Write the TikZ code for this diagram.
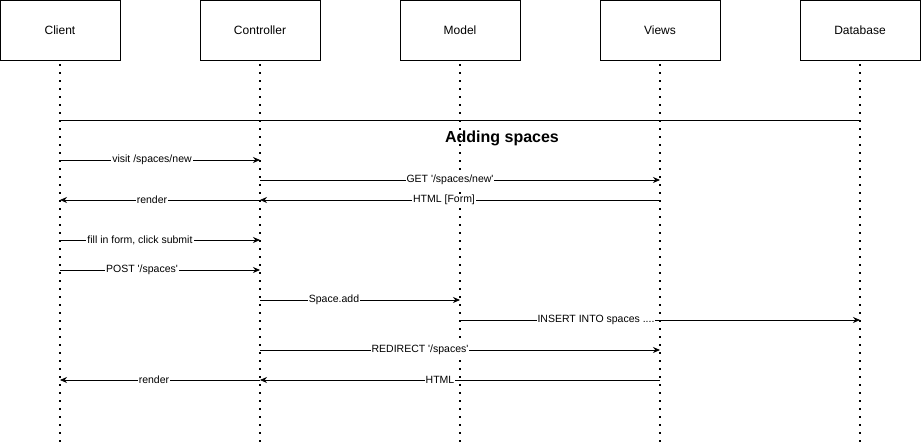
\documentclass[tikz,border=0pt]{standalone}
\usepackage{fontspec}
\setmainfont{Liberation Sans}
\usetikzlibrary{arrows.meta,positioning}
\tikzset{
    seqBox/.style={
        draw,
        line width=0.8pt,
        minimum width=120pt,
        minimum height=60pt,
        font=\fontsize{12}{14}\selectfont
    },
    seqLife/.style={
        line width=1.2pt,
        dash pattern=on 1.2pt off 6.8pt
    },
    seqMsg/.style={
        -{Stealth[length=7pt,width=6pt]},
        line width=0.8pt
    },
    seqLabel/.style={
        fill=white,
        inner sep=1pt,
        font=\fontsize{10.5}{12}\selectfont
    }
}
\newcommand{\q}{\textquotesingle}

\begin{document}
\begin{tikzpicture}[x=1pt,y=-1pt,node distance=79.2pt]
        \useasboundingbox (0,0) rectangle (921,443);

        \node[seqBox] (client) at (60,30) {Client};
        \node[seqBox,right=of client] (ctrl) {Controller};
        \node[seqBox,right=of ctrl] (model) {Model};
        \node[seqBox,right=of model] (views) {Views};
        \node[seqBox,right=of views] (db) {Database};

        % lifelines
        \coordinate (bottom) at (0,443);
        \foreach \who in {client,ctrl,model,views,db}
            \draw[seqLife] (\who.south) ++(0,4) -- (\who |- bottom);

        % separator and title
        \coordinate (sep) at (0,120);
        \draw[line width=0.8pt] (client |- sep) -- (db |- sep);
        \node[font=\fontsize{16}{18}\selectfont\bfseries] (title) at (502,138) {Adding spaces};

        % message rows
        \foreach \row/\y in {m1/160,m2/180,m3/200,m4/240,m5/270,m6/300,m7/320,m8/350,m9/380}
            \coordinate (\row) at (0,\y);

        \draw[seqMsg] (client |- m1) -- node[seqLabel,pos=0.46] {visit /spaces/new} (ctrl |- m1);
        \draw[seqMsg] (ctrl |- m2) -- node[seqLabel,pos=0.475] {GET \q/spaces/new\q} (views |- m2);
        \draw[seqMsg] (views |- m3) -- node[seqLabel,pos=0.54] {HTML [Form]} (ctrl |- m3);
        \draw[seqMsg] (ctrl |- m3) -- node[seqLabel,pos=0.54] {render} (client |- m3);
        \draw[seqMsg] (client |- m4) -- node[seqLabel,pos=0.4] {fill in form, click submit} (ctrl |- m4);
        \draw[seqMsg] (client |- m5) -- node[seqLabel,pos=0.41] {POST \q/spaces\q} (ctrl |- m5);
        \draw[seqMsg] (ctrl |- m6) -- node[seqLabel,pos=0.37] {Space.add} (model |- m6);
        \draw[seqMsg] (model |- m7) -- node[seqLabel,pos=0.34] {INSERT INTO spaces ....} (db |- m7);
        \draw[seqMsg] (ctrl |- m8) -- node[seqLabel,pos=0.4] {REDIRECT \q/spaces\q} (views |- m8);
        \draw[seqMsg] (views |- m9) -- node[seqLabel,pos=0.55] {HTML} (ctrl |- m9);
        \draw[seqMsg] (ctrl |- m9) -- node[seqLabel,pos=0.53] {render} (client |- m9);
    \end{tikzpicture}
\end{document}
